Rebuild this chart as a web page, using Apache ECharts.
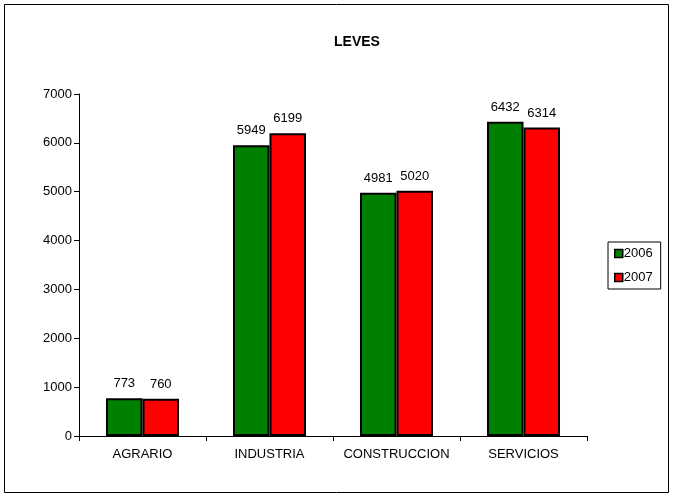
<!DOCTYPE html>
<html><head><meta charset="utf-8">
<script src="https://cdn.jsdelivr.net/npm/echarts@6/dist/echarts.min.js"></script>
<style>html,body{margin:0;padding:0;background:#fff}#c{width:673px;height:497px}</style>
</head><body><div id="c"></div>
<script>
const categories = ['AGRARIO', 'INDUSTRIA', 'CONSTRUCCION', 'SERVICIOS'];
const values2006 = [773, 5949, 4981, 6432];
const values2007 = [760, 6199, 5020, 6314];
const seriesNames = ['2006', '2007'];
const chart = echarts.init(document.getElementById('c'), null, {renderer: 'canvas'});
const font = 'Liberation Sans';
const lbl = {show: true, position: 'top', distance: 8, color: '#000', fontFamily: font, fontSize: 13};
chart.setOption({
  animation: false,
  backgroundColor: '#fff',
  title: {text: 'LEVES', left: 352, top: 30, textAlign: 'center',
    textStyle: {fontFamily: font, fontSize: 14, fontWeight: 'bold', color: '#000'}},
  graphic: [{type: 'rect', shape: {x: 4.5, y: 4.5, width: 664, height: 488},
    style: {fill: 'none', stroke: '#000', lineWidth: 1}, silent: true, z: -1}],
  legend: {orient: 'vertical', left: 608, top: 242, itemWidth: 8, itemHeight: 8, itemGap: 11,
    padding: [5, 8, 5, 6], borderColor: '#000', borderWidth: 1, borderRadius: 0,
    icon: 'rect',
    itemStyle: {borderColor: '#000', borderWidth: 1.5},
    textStyle: {fontFamily: font, fontSize: 13, color: '#000', padding: [0, 0, 0, -4]},
    data: seriesNames},
  grid: {left: 79, right: 86, top: 94, bottom: 61, containLabel: false},
  xAxis: {type: 'category', data: categories,
    axisLine: {lineStyle: {color: '#000', width: 1}},
    axisTick: {show: true, alignWithLabel: false, length: 5, lineStyle: {color: '#000'}},
    axisLabel: {fontFamily: font, fontSize: 13, color: '#000', margin: 12, interval: 0}},
  yAxis: {type: 'value', min: 0, max: 7000, interval: 1000,
    axisLine: {show: true, lineStyle: {color: '#000'}},
    axisTick: {show: true, length: 5, lineStyle: {color: '#000'}},
    splitLine: {show: false},
    axisLabel: {fontFamily: font, fontSize: 13, color: '#000', margin: 7,
      formatter: v => String(v)}},
  series: [
    {name: seriesNames[0], type: 'bar', data: values2006, barGap: '0%', barCategoryGap: '42.5%',
     itemStyle: {color: '#008000', borderColor: '#000', borderWidth: 2}, label: lbl},
    {name: seriesNames[1], type: 'bar', data: values2007,
     itemStyle: {color: '#ff0000', borderColor: '#000', borderWidth: 2}, label: lbl}
  ]
});
</script></body></html>
